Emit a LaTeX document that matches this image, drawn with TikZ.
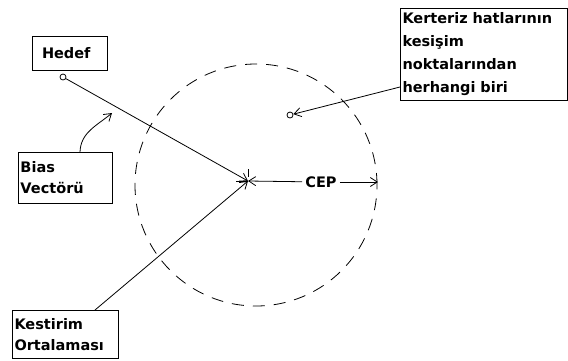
\documentclass[tikz,border=0pt]{standalone}
\usepackage{fontspec}
\setmainfont{DejaVu Sans}
\usetikzlibrary{arrows.meta}
\begin{document}
\begin{tikzpicture}[x=1pt,y=-1pt,
  lbl/.style={draw,line width=1pt,font=\bfseries\fontsize{14.5}{21}\selectfont,align=left,inner sep=0pt,anchor=north west},
  dot/.style={circle,draw,line width=0.8pt,inner sep=0pt,minimum size=6pt,fill=white},
  conn/.style={line width=0.8pt},
  tip/.style={-{Straight Barb[length=7pt,width=9pt]}}]
\useasboundingbox (0,0) rectangle (568,360);
\fill[white] (0,0) rectangle (568,360);
% CEP circle
\node[circle,draw,dash pattern=on 12pt off 9pt,line width=0.8pt,minimum size=242pt,inner sep=0pt] (cep) at (256,185) {};
% boxes
\node[lbl,minimum width=75pt,minimum height=34pt,text width=70pt] (hedef) at (32,36) {\hspace*{7pt}Hedef};
\node[lbl,minimum width=94pt,minimum height=51pt,text width=92pt] (bias) at (18,152) {\hspace*{1pt}Bias\\\hspace*{1pt}Vectörü};
\node[lbl,minimum width=106pt,minimum height=48pt,text width=104pt] (kest) at (12,310) {\hspace*{1pt}Kestirim\\\hspace*{1pt}Ortalaması};
\node[lbl,minimum width=167pt,minimum height=92pt,text width=165pt,font=\bfseries\fontsize{14.5}{23}\selectfont] (kert) at (400,8) {\hspace*{1pt}Kerteriz hatlarının\\\hspace*{1pt}kesişim\\\hspace*{1pt}noktalarından\\\hspace*{1pt}herhangi biri};
% points
\coordinate (c) at (248,181);
\node[dot] (h) at (63,77) {};
\node[dot] (k) at (290,115) {};
\node[font=\bfseries\fontsize{14.5}{16}\selectfont,inner sep=3pt] (cepl) at (321,182) {CEP};
\coordinate (r) at (378,182);
\coordinate (ke) at (400,87);
\coordinate (bt) at (80,152);
\coordinate (ba) at (112,113);
\coordinate (kt) at (95,310);
% connectors
\draw[conn,tip] (h) -- (c);
\draw[conn,tip] (kt) -- (c);
\draw[conn,tip] (cepl) -- (c);
\draw[conn,tip] (cepl) -- (r);
\draw[conn,tip] (ke) -- (k);
\draw[conn,tip] (bt) to[out=88,in=220] (ba);
\draw[conn] (c) ++(-12,0) -- ++(10,0);
\draw[conn] (c) ++(0,-12) -- ++(0,8);
\end{tikzpicture}
\end{document}
